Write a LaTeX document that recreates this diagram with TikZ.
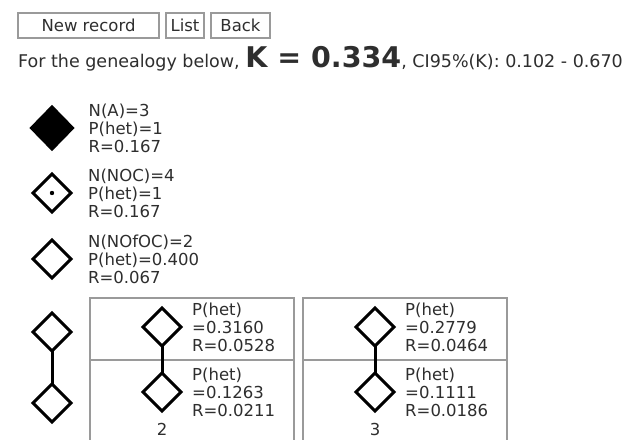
\documentclass[tikz,border=0pt]{standalone}
\usepackage{fontspec}
\setmainfont{DejaVu Sans}
\usetikzlibrary{positioning,shapes.geometric}
\definecolor{inkgray}{HTML}{2E2E2E}
\definecolor{framegray}{HTML}{9A9A9A}

\begin{document}
\begin{tikzpicture}[
    x=1pt, y=-1pt,
    font=\fontsize{16.5}{18}\selectfont,
    txt/.style={text=inkgray, inner sep=0pt, align=left},
    button/.style={
        draw=framegray,
        line width=1.3pt,
        inner sep=0pt,
        outer sep=0pt,
        minimum height=25pt,
        text=inkgray
    },
    gem/.style={
        diamond,
        draw=black,
        line width=3pt,
        inner sep=0pt,
        outer sep=0pt,
        minimum width=38pt,
        minimum height=38pt
    },
    fullgem/.style={gem, fill=black, minimum width=41pt, minimum height=42pt},
    cell/.style={
        draw=framegray,
        line width=1.8pt,
        anchor=north west,
        inner sep=0pt,
        minimum width=204pt
    },
    link/.style={line width=3pt}
]
\useasboundingbox[fill=white] (0,0) rectangle (639,439);

% ============================================================
% BUTTONS AND HEADER
% ============================================================
\node[button, minimum width=141pt] (newrec) at (88.5,25.5) {New record};
\node[button, minimum width=38pt, right=7pt of newrec] (list) {List};
\node[button, minimum width=59pt, right=7pt of list] (back) {Back};

\node[txt, anchor=base west, font=\fontsize{17.5}{19}\selectfont] (intro) at (18,67)
    {For the genealogy below, {\fontsize{28.5}{30}\selectfont\bfseries K = 0.334}, CI95\%(K): 0.102 - 0.670};

% ============================================================
% LEGEND
% ============================================================
\node[fullgem] (legA) at (52,128) {};
\node[txt, right=16pt of legA] (legAtxt) {N(A)=3\\P(het)=1\\R=0.167};

\node[gem] (legNOC) at (52,193) {};
\fill (legNOC.center) circle (2.2pt);
\node[txt, right=17pt of legNOC] (legNOCtxt) {N(NOC)=4\\P(het)=1\\R=0.167};

\node[gem] (legNOfOC) at (52,259) {};
\node[txt, right=17pt of legNOfOC] (legNOfOCtxt) {N(NOfOC)=2\\P(het)=0.400\\R=0.067};

% chain of two
\node[gem] (chainA) at (52,332) {};
\node[gem] (chainB) at (52,403) {};
\draw[link] (chainA.south) -- (chainB.north);

% ============================================================
% TABLE
% ============================================================
\node[cell, minimum height=62pt] (cellAtop) at (89,297) {};
\node[cell, minimum height=90pt] (cellAbot) at (89,359) {};
\node[cell, minimum height=62pt] (cellBtop) at (302,297) {};
\node[cell, minimum height=90pt] (cellBbot) at (302,359) {};

% column 2
\node[gem] (twoA) at (162,327) {};
\node[txt, right=11pt of twoA] (twoAtxt) {P(het)\\=0.3160\\R=0.0528};
\node[gem] (twoB) at (162,392) {};
\node[txt, right=11pt of twoB] (twoBtxt) {P(het)\\=0.1263\\R=0.0211};
\draw[link] (twoA.south) -- (twoB.north);
\node[txt, below=12pt of twoB] (two) {2};

% column 3
\node[gem] (threeA) at (375,327) {};
\node[txt, right=11pt of threeA] (threeAtxt) {P(het)\\=0.2779\\R=0.0464};
\node[gem] (threeB) at (375,392) {};
\node[txt, right=11pt of threeB] (threeBtxt) {P(het)\\=0.1111\\R=0.0186};
\draw[link] (threeA.south) -- (threeB.north);
\node[txt, below=12pt of threeB] (three) {3};

\end{tikzpicture}
\end{document}
